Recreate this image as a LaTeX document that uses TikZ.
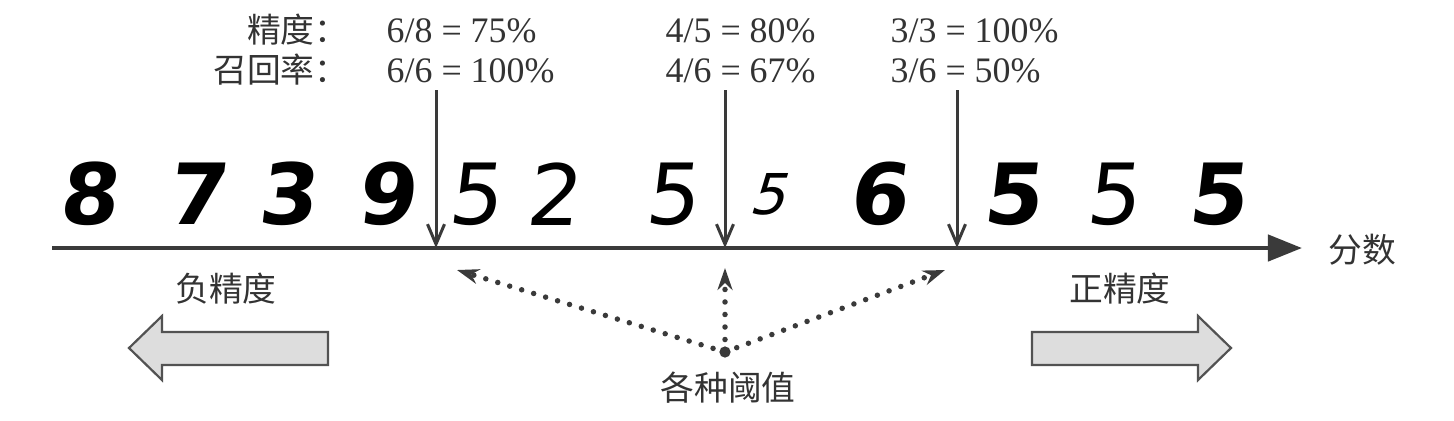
\documentclass[tikz,border=0pt]{standalone}
\usepackage{fontspec}
\setmainfont{Liberation Serif}
\newfontfamily\cjk{Noto Sans CJK SC}
\newfontfamily\hand{DejaVu Sans}
\usetikzlibrary{arrows.meta}
\definecolor{ink}{HTML}{333333}
\definecolor{axisgray}{HTML}{3A3A3A}
\definecolor{boxgray}{HTML}{DDDDDD}
\tikzset{
  zh/.style={font=\cjk\fontsize{9.6}{11}\selectfont, text=ink, inner sep=0pt},
  num/.style={font=\fontsize{10.2}{12}\selectfont, text=ink, inner sep=0pt, anchor=base west},
  digheavy/.style={font=\hand\bfseries\fontsize{24}{24}\selectfont, inner sep=0pt, xslant=0.12},
  diglight/.style={font=\hand\fontsize{24}{24}\selectfont, inner sep=0pt, xslant=0.12},
  digsmall/.style={font=\hand\fontsize{16}{16}\selectfont, inner sep=0pt, xslant=0.3},
  axis/.style={draw=axisgray, line width=0.045cm, -{Triangle[length=0.34cm,width=0.26cm]}},
  thr/.style={draw=axisgray, line width=0.03cm, -{Straight Barb[length=0.2cm,width=0.17cm]}},
  dots/.style={draw=axisgray, line width=0.055cm, line cap=round, dash pattern=on 0pt off 0.125cm,
    -{Stealth[length=0.22cm,width=0.15cm]}},
  bigarrow/.style={draw=ink!85, fill=boxgray, line width=0.022cm, line join=miter},
}
\begin{document}
\begin{tikzpicture}[x=0.01cm,y=-0.01cm,line join=round]
	\useasboundingbox (0,0) rectangle (1454,420);
	% score axis
	\coordinate (axs) at (52,248);
	\coordinate (axe) at (1302,248);
	\draw[axis] (axs) -- (axe);
	\node[zh,anchor=west] (score) at (1328,250) {分数};
	% digits sorted by score
	\foreach \d/\x/\s [count=\i] in {8/92/digheavy,7/200/digheavy,3/291/digheavy,9/390/digheavy,
		5/478/diglight,2/556/diglight,5/675/diglight,5/772/digsmall,6/882/digheavy,
		5/1015/digheavy,5/1116/diglight,5/1220/digheavy}
		\node[\s] (d\i) at (\x,194) {\d};
	% thresholds
	\foreach \x [count=\i] in {436,725,957} {
		\coordinate (top\i) at (\x,90);
		\coordinate (t\i) at (\x,248);
		\draw[thr] (top\i) -- (t\i);
	}
	% precision / recall
	\node[zh,anchor=base east] (prec) at (349,42) {精度：};
	\node[zh,anchor=base east] (rec) at (349,82) {召回率：};
	\node[num] (p1) at (386,42) {6/8 = 75\%};
	\node[num] (r1) at (386,82) {6/6 = 100\%};
	\node[num] (p2) at (665,42) {4/5 = 80\%};
	\node[num] (r2) at (665,82) {4/6 = 67\%};
	\node[num] (p3) at (890,42) {3/3 = 100\%};
	\node[num] (r3) at (890,82) {3/6 = 50\%};
	% various thresholds
	\coordinate (o) at (725,352);
	\coordinate (a1) at (457,270);
	\coordinate (a2) at (725,268);
	\coordinate (a3) at (945,270);
	\foreach \p in {a1,a2,a3} \draw[dots] (o) -- (\p);
	\fill[axisgray] (o) circle (1.6pt);
	\node[zh] (thlab) at (728,388) {各种阈值};
	% precision directions
	\node[zh] (neg) at (226,289) {负精度};
	\node[zh] (pos) at (1120,289) {正精度};
	\draw[bigarrow] (328,332) -- (162,332) -- (162,316) -- (129,348) -- (162,380) -- (162,365) -- (328,365) -- cycle;
	\draw[bigarrow] (1032,332) -- (1198,332) -- (1198,316) -- (1231,348) -- (1198,380) -- (1198,365) -- (1032,365) -- cycle;
\end{tikzpicture}
\end{document}
